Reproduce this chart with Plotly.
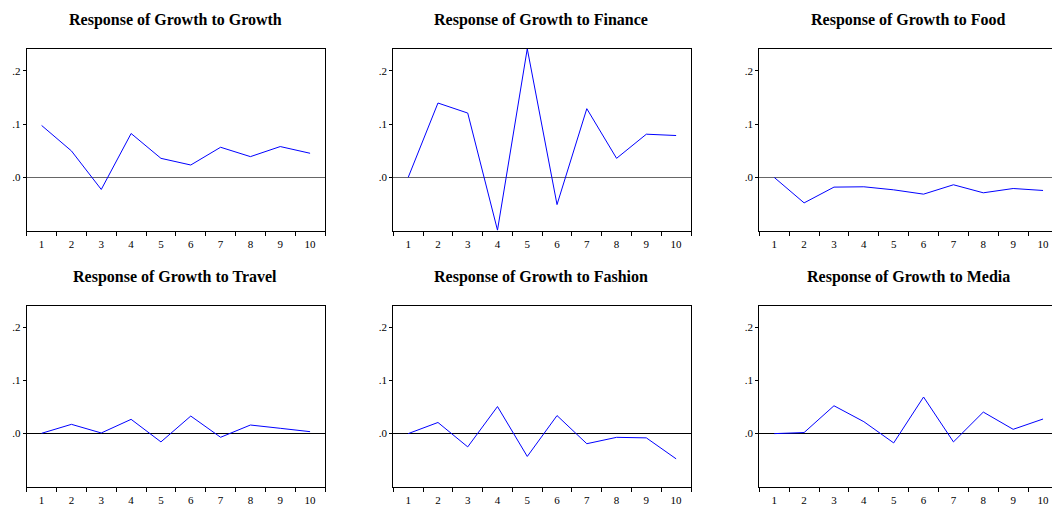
import plotly.graph_objects as go

W, H = 1052, 508

periods = ["1", "2", "3", "4", "5", "6", "7", "8", "9", "10"]
y_tick_vals = [0.0, 0.1, 0.2]
y_tick_text = [".0", ".1", ".2"]

titles = [
    "Response of Growth to Growth",
    "Response of Growth to Finance",
    "Response of Growth to Food",
    "Response of Growth to Travel",
    "Response of Growth to Fashion",
    "Response of Growth to Media",
]

growth_growth = [0.0975, 0.0497, -0.0226, 0.0824, 0.0358, 0.0233, 0.0566, 0.039, 0.0579, 0.0453]
growth_finance = [0.0, 0.1396, 0.1208, -0.099, 0.2415, -0.051, 0.129, 0.0358, 0.0811, 0.0786]
growth_food = [0.0, -0.0478, -0.0182, -0.0176, -0.0233, -0.0314, -0.0138, -0.0289, -0.0208, -0.0245]
growth_travel = [0.0006, 0.0175, 0.0012, 0.0269, -0.0156, 0.0331, -0.0069, 0.0162, 0.0100, 0.0037]
growth_fashion = [0.0, 0.021, -0.025, 0.051, -0.043, 0.034, -0.019, -0.007, -0.008, -0.0475]
growth_media = [0.0, 0.002, 0.0525, 0.0225, -0.0175, 0.069, -0.0156, 0.0406, 0.0081, 0.0275]

series = [growth_growth, growth_finance, growth_food, growth_travel, growth_fashion, growth_media]

# panel geometry in pixels: (left, right, top, bottom)
panels_px = [
    (26.7, 325.0, 49.0, 230.7),
    (393.3, 691.0, 49.0, 230.7),
    (759.3, 1052.0, 49.0, 230.7),
    (26.7, 325.0, 305.7, 486.7),
    (393.3, 691.0, 305.7, 486.7),
    (759.3, 1052.0, 305.7, 486.7),
]
title_y_px = [20, 20, 20, 277, 277, 277]
title_x_px = [175, 541, 908, 175, 541, 908]

fig = go.Figure()
font_family = "Liberation Serif, Times New Roman, serif"

for i, (vals, (l, r, t, b)) in enumerate(zip(series, panels_px)):
    n = "" if i == 0 else str(i + 1)
    fig.add_trace(go.Scatter(
        x=periods, y=vals, mode="lines",
        line=dict(color="#0000ff", width=1),
        xaxis="x" + n, yaxis="y" + n, showlegend=False, cliponaxis=True,
        hoverinfo="skip",
    ))
    zc = "#666666" if i < 3 else "#000000"
    xr = [-0.5, 9.5] if (i % 3) != 2 else [-0.5, 9.3]
    fig.layout["xaxis" + n] = dict(
        domain=[l / W, r / W], anchor="y" + n, type="category",
        range=xr, tickson="boundaries", ticks="outside", ticklen=4,
        tickwidth=1, tickcolor="#000", showline=True, linecolor="#000",
        linewidth=1, mirror=True, showgrid=False, zeroline=False,
        automargin=False, ticklabelstandoff=3,
        tickfont=dict(family=font_family, size=11, color="#000"),
    )
    fig.layout["yaxis" + n] = dict(
        domain=[1 - b / H, 1 - t / H], anchor="x" + n,
        range=[-0.1, 0.241], tickvals=y_tick_vals, ticktext=y_tick_text,
        ticks="outside", ticklen=3, tickwidth=1, tickcolor="#000",
        showline=True, linecolor="#000", linewidth=1, mirror=True,
        showgrid=False, zeroline=True, zerolinecolor=zc, zerolinewidth=1,
        automargin=False,
        tickfont=dict(family=font_family, size=11, color="#000"),
    )
    fig.add_annotation(
        text="<b>" + titles[i] + "</b>", xref="paper", yref="paper",
        x=title_x_px[i] / W, y=1 - title_y_px[i] / H, xanchor="center",
        yanchor="middle", showarrow=False,
        font=dict(family=font_family, size=16, color="#000"),
    )

fig.update_layout(
    template="none",
    width=W, height=H, margin=dict(l=0, r=0, t=0, b=0, autoexpand=False),
    paper_bgcolor="white", plot_bgcolor="white",
)

fig.write_html(
    "out.html",
    config={"displayModeBar": False},
    post_script="document.body.style.margin='0';document.body.style.overflow='hidden';",
)
